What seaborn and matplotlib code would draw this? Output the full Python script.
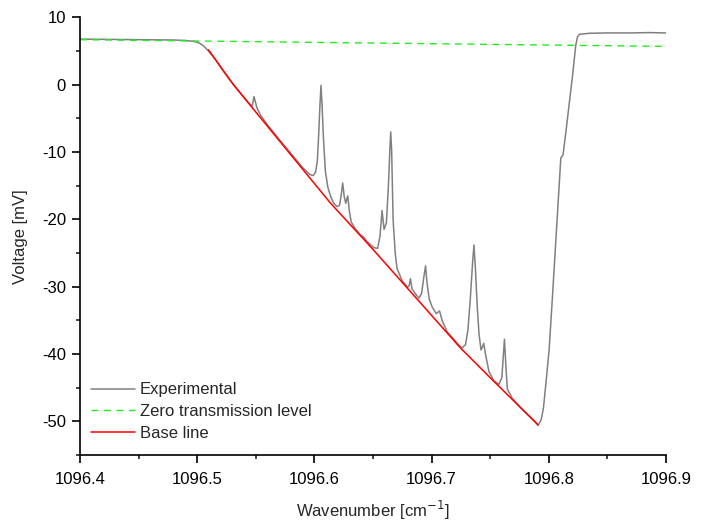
import matplotlib
matplotlib.use("Agg")
import matplotlib.pyplot as plt
import seaborn as sns
import pandas as pd
from matplotlib.ticker import MultipleLocator

# Experimental trace
exp_x = [1096.400, 1096.420, 1096.440, 1096.460, 1096.480, 1096.490, 1096.497,
         1096.502, 1096.506, 1096.5097, 1096.515, 1096.520, 1096.525, 1096.531,
         1096.538, 1096.544, 1096.5455, 1096.547, 1096.5478, 1096.5485, 1096.5495,
         1096.551, 1096.554, 1096.560, 1096.570, 1096.580, 1096.590, 1096.596,
         1096.599, 1096.601, 1096.6025, 1096.6037, 1096.6048, 1096.6057, 1096.6066,
         1096.6078, 1096.6094, 1096.6115, 1096.6137, 1096.6165, 1096.6195, 1096.6215,
         1096.6230, 1096.6242, 1096.6255, 1096.6268, 1096.6285, 1096.6300, 1096.6315,
         1096.635, 1096.6393, 1096.6420, 1096.6445, 1096.6507, 1096.654, 1096.656,
         1096.6578, 1096.6595, 1096.6615, 1096.6632, 1096.6645, 1096.6652, 1096.6660,
         1096.6672, 1096.6690, 1096.6706, 1096.6749, 1096.6797, 1096.6810, 1096.6820,
         1096.6833, 1096.6860, 1096.6892, 1096.6915, 1096.6935, 1096.6949, 1096.6962,
         1096.6980, 1096.7005, 1096.7040, 1096.7068, 1096.7090, 1096.7133, 1096.7180,
         1096.7219, 1096.7260, 1096.7290, 1096.7310, 1096.7330, 1096.7350, 1096.7362,
         1096.7375, 1096.7390, 1096.7405, 1096.7422, 1096.7433, 1096.7445, 1096.7460,
         1096.7490, 1096.7532, 1096.7575, 1096.7600, 1096.7612, 1096.7622, 1096.7635,
         1096.7647, 1096.7690, 1096.7761, 1096.7832, 1096.7880, 1096.7909, 1096.7935,
         1096.7955, 1096.7975, 1096.8003, 1096.8031, 1096.8065, 1096.8103, 1096.8122,
         1096.8145, 1096.8202, 1096.8230, 1096.8245, 1096.8262, 1096.835, 1096.850,
         1096.870, 1096.885, 1096.900]
exp_y = [6.78, 6.75, 6.72, 6.70, 6.65, 6.58, 6.45,
         6.2, 5.7, 5.0, 3.9, 2.6, 1.4, 0.05,
         -1.45, -2.7, -2.95, -3.15, -2.5, -1.75, -2.4,
         -3.4, -4.5, -5.95, -8.1, -10.2, -12.3, -13.3,
         -13.5, -13.0, -11.5, -7.5, -3.0, -0.1, -3.0,
         -8.0, -12.8, -15.2, -16.5, -17.6, -18.1, -17.9,
         -16.3, -14.6, -16.6, -17.6, -16.5, -18.9, -20.4,
         -21.4, -22.3, -22.6, -23.2, -24.2, -24.3, -22.5,
         -18.7, -21.5, -20.5, -15.0, -9.5, -7.0, -10.0,
         -20.0, -25.0, -27.3, -29.1, -30.1, -29.8, -28.8,
         -30.3, -31.0, -31.7, -31.0, -28.5, -26.9, -29.5,
         -31.8, -33.0, -34.0, -33.6, -35.0, -36.7, -37.6,
         -38.4, -39.1, -38.6, -36.5, -32.0, -26.5, -23.8,
         -27.5, -33.0, -37.0, -39.4, -39.0, -38.4, -40.0,
         -42.6, -44.0, -44.5, -43.5, -40.5, -37.8, -42.0,
         -45.2, -46.6, -48.0, -49.2, -50.0, -50.6, -49.8,
         -48.0, -44.5, -39.4, -31.7, -21.8, -10.9, -10.4,
         -7.2, 1.2, 5.8, 7.1, 7.5, 7.65, 7.7,
         7.7, 7.75, 7.7]

# Zero transmission level (dashed green)
zero_x = [1096.400, 1096.900]
zero_y = [6.7, 5.7]

# Base line (red)
base_x = [1096.5097, 1096.5310, 1096.6137, 1096.6496, 1096.7248, 1096.7504, 1096.7909]
base_y = [5.20, 0.0, -17.57, -24.37, -39.12, -43.58, -50.52]

sns.set_style("ticks")
plt.rcParams['font.family'] = ['Liberation Sans', 'DejaVu Sans']
plt.rcParams['axes.unicode_minus'] = False

fig = plt.figure(figsize=(7.01, 5.24), dpi=100)
ax = fig.add_axes([0.114, 0.1317, 0.836, 0.835])

exp_df = pd.DataFrame({'x': exp_x, 'y': exp_y})
zero_df = pd.DataFrame({'x': zero_x, 'y': zero_y})
base_df = pd.DataFrame({'x': base_x, 'y': base_y})

sns.lineplot(data=exp_df, x='x', y='y', ax=ax, color='#808080', lw=1.1,
             label='Experimental', sort=False, estimator=None)
sns.lineplot(data=zero_df, x='x', y='y', ax=ax, color='#22ee22', lw=1.0,
             linestyle=(0, (5, 4)), label='Zero transmission level',
             sort=False, estimator=None)
sns.lineplot(data=base_df, x='x', y='y', ax=ax, color='#ff0000', lw=1.1,
             label='Base line', sort=False, estimator=None)

ax.set_xlim(1096.4, 1096.9)
ax.set_ylim(-55, 10)
ax.xaxis.set_major_locator(MultipleLocator(0.1))
ax.xaxis.set_minor_locator(MultipleLocator(0.05))
ax.yaxis.set_major_locator(MultipleLocator(10))
ax.yaxis.set_minor_locator(MultipleLocator(5))
ax.xaxis.set_major_formatter(plt.FuncFormatter(lambda v, p: f"{v:.1f}"))
ax.tick_params(which='major', direction='out', length=6, width=1.2, pad=4,
               labelsize=12, colors='black')
ax.tick_params(axis='x', which='major', pad=6)
ax.tick_params(which='minor', direction='out', length=3.2, width=1.2)
for s in ['left', 'bottom']:
    ax.spines[s].set_linewidth(1.2)
    ax.spines[s].set_color('black')
sns.despine(ax=ax)

ax.set_xlabel('Wavenumber [cm$^{-1}$]', fontsize=12, labelpad=9)
ax.set_ylabel('Voltage [mV]', fontsize=12, labelpad=10)

ax.legend(loc='upper left', bbox_to_anchor=(0.005, 0.185), frameon=False,
          fontsize=12, handlelength=2.6, labelspacing=0.4, borderpad=0,
          handletextpad=0.3)

fig.savefig('out.png', dpi=100)
